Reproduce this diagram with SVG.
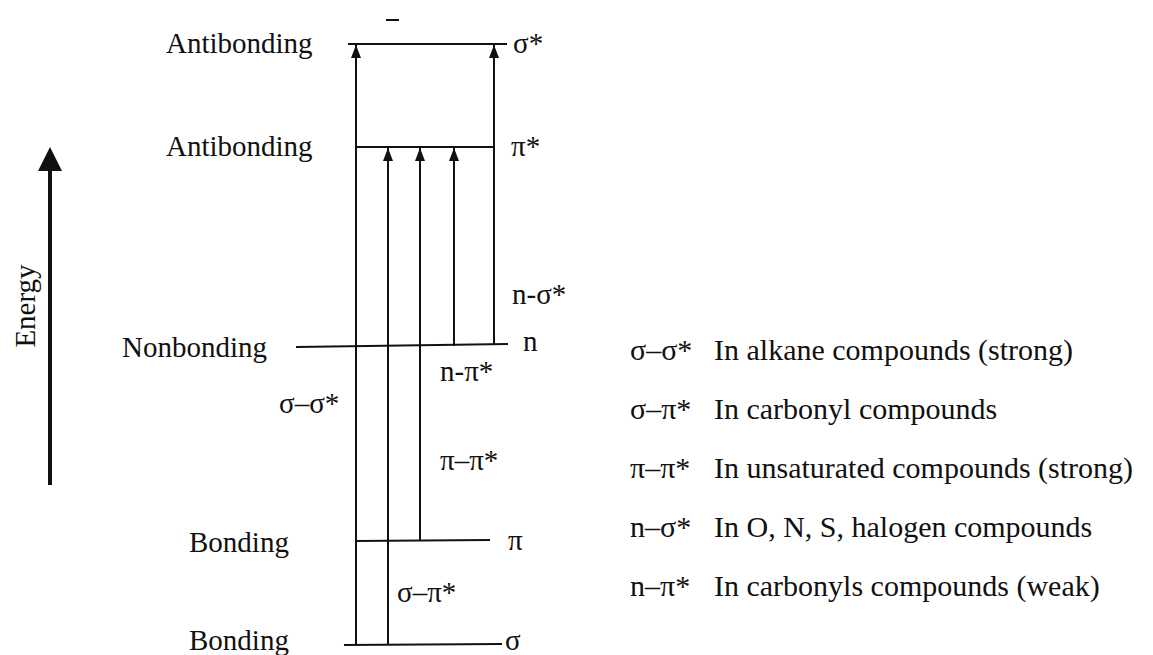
<svg xmlns="http://www.w3.org/2000/svg" width="1153" height="655" viewBox="0 0 1153 655">
<style>
text{font-family:"Liberation Serif","Times New Roman",serif;fill:#111;}
.lbl{font-size:29px;}
.leg{font-size:30px;}
.lvl{stroke:#111;stroke-width:2.2;fill:none;}
.tr{stroke:#111;stroke-width:2;fill:none;marker-end:url(#ah);}
</style>
<defs>
<marker id="ah" markerUnits="userSpaceOnUse" markerWidth="14" markerHeight="12" viewBox="0 0 14 12" refX="13" refY="6" orient="auto">
<path d="M13,6 L0,11 L0,1 Z" fill="#111"/>
</marker>
</defs>
<rect width="1153" height="655" fill="#fff"/>

<g id="energy-axis">
<line x1="50" y1="485" x2="50" y2="166" stroke="#111" stroke-width="4"/>
<path d="M50,147 L62,171 L38,171 Z" fill="#111"/>
<text class="lbl" transform="translate(35,306) rotate(-90)" text-anchor="middle">Energy</text>
</g>

<g id="level-sigma-star">
<line class="lvl" x1="348" y1="44" x2="507" y2="44"/>
<text class="lbl" x="166" y="53">Antibonding</text>
<text class="lbl" x="513" y="53">σ*</text>
<line x1="386" y1="20" x2="399" y2="20" stroke="#111" stroke-width="2"/>
</g>

<g id="level-pi-star">
<line class="lvl" x1="357" y1="147" x2="493" y2="147"/>
<text class="lbl" x="166" y="156">Antibonding</text>
<text class="lbl" x="511" y="156">π*</text>
</g>

<g id="level-n">
<line class="lvl" x1="296" y1="347" x2="508" y2="344"/>
<text class="lbl" x="122" y="357">Nonbonding</text>
<text class="lbl" x="523" y="351">n</text>
</g>

<g id="level-pi">
<line class="lvl" x1="355" y1="541" x2="490" y2="540"/>
<text class="lbl" x="189" y="552">Bonding</text>
<text class="lbl" x="508" y="550">π</text>
</g>

<g id="level-sigma">
<line class="lvl" x1="344" y1="645" x2="502" y2="644"/>
<text class="lbl" x="189" y="650">Bonding</text>
<text class="lbl" x="505" y="650">σ</text>
</g>

<g id="connectors">
<line class="tr" x1="356" y1="645" x2="356" y2="45"/>
<line class="tr" x1="388" y1="645" x2="388" y2="148"/>
<line class="tr" x1="420" y1="541" x2="420" y2="148"/>
<line class="tr" x1="454" y1="346" x2="454" y2="148"/>
<line class="tr" x1="494" y1="344" x2="494" y2="45"/>
</g>

<g id="transition-labels">
<text class="lbl" x="512" y="304">n-σ*</text>
<text class="lbl" x="440" y="381">n-π*</text>
<text class="lbl" x="279" y="413">σ–σ*</text>
<text class="lbl" x="440" y="470">π–π*</text>
<text class="lbl" x="397" y="602">σ–π*</text>
</g>

<g id="legend">
<text class="leg" x="630" y="360">σ–σ*</text><text class="leg" x="714" y="360">In alkane compounds (strong)</text>
<text class="leg" x="630" y="419">σ–π*</text><text class="leg" x="714" y="419">In carbonyl compounds</text>
<text class="leg" x="630" y="478">π–π*</text><text class="leg" x="714" y="478">In unsaturated compounds (strong)</text>
<text class="leg" x="630" y="537">n–σ*</text><text class="leg" x="714" y="537">In O, N, S, halogen compounds</text>
<text class="leg" x="630" y="596">n–π*</text><text class="leg" x="714" y="596">In carbonyls compounds (weak)</text>
</g>
</svg>
